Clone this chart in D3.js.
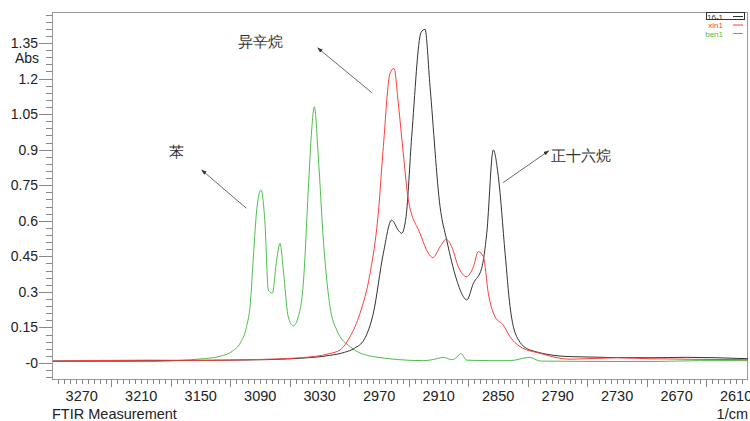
<!DOCTYPE html>
<html>
<head>
<meta charset="utf-8">
<script src="https://cdn.jsdelivr.net/npm/d3@7"></script>
<style>
  body { margin: 0; background: #fff; }
  svg { display: block; }
  text { font-family: "Liberation Sans", Arial, sans-serif; }
</style>
</head>
<body>
<svg width="750" height="421"></svg>
<script>
// spectra, [wavenumber 1/cm, absorbance]
const hexadecane = [
  [3299, 0.008], [3201, 0.01], [3100, 0.013], [3050, 0.02], [3020, 0.032], [3005, 0.045],
  [2995, 0.062], [2985, 0.1], [2975.9, 0.21], [2965.8, 0.463], [2957.4, 0.603], [2950.7, 0.56],
  [2947.3, 0.547], [2942.9, 0.617], [2937.2, 0.955], [2927.8, 1.394], [2923.8, 1.408],
  [2918.7, 1.166], [2908.6, 0.66], [2901.9, 0.519], [2891.8, 0.35], [2885.1, 0.28],
  [2881.7, 0.266], [2875, 0.336], [2866.6, 0.40], [2861.5, 0.547], [2854.9, 0.899],
  [2849.8, 0.786], [2843, 0.463], [2838, 0.238], [2831.3, 0.111], [2817.9, 0.055],
  [2777.5, 0.027], [2696.8, 0.022], [2660, 0.024], [2598, 0.018]
];
const isooctane = [
  [3299, 0.008], [3201, 0.012], [3150.7, 0.011], [3100, 0.014], [3050, 0.022],
  [3019.6, 0.04], [3009.5, 0.055], [2999.4, 0.111], [2989.3, 0.21], [2979.2, 0.378],
  [2970.9, 0.632], [2965.8, 0.913], [2959.1, 1.222], [2955, 1.243], [2950.7, 1.095],
  [2945.7, 0.885], [2940.6, 0.688], [2928.8, 0.547], [2920.4, 0.463], [2916, 0.444],
  [2908.6, 0.49], [2902.6, 0.522], [2896.8, 0.49], [2890.2, 0.406], [2881.7, 0.364],
  [2875, 0.406], [2870, 0.47], [2864.9, 0.448], [2859.9, 0.294], [2853.1, 0.195],
  [2844.8, 0.16], [2838, 0.111], [2827.9, 0.069], [2807.8, 0.041], [2777.5, 0.016],
  [2730, 0.022], [2696.8, 0.018], [2598, 0.014]
];
const benzene = [
  [3299, 0.008], [3201, 0.006], [3171, 0.011], [3150, 0.017], [3130, 0.029],
  [3118, 0.05], [3110, 0.085], [3104, 0.15], [3100, 0.25], [3096.9, 0.448],
  [3093.5, 0.646], [3089.2, 0.73],
  [3085.2, 0.59], [3081.8, 0.308], [3077.8, 0.294], [3073.4, 0.435], [3070, 0.505],
  [3066.7, 0.392], [3061.7, 0.195], [3056.6, 0.156], [3051.6, 0.195], [3046.5, 0.336],
  [3041.5, 0.73], [3038.1, 0.983], [3035.4, 1.081], [3031.4, 0.87], [3026.3, 0.519],
  [3019.6, 0.238], [3012.8, 0.139], [2999.4, 0.069], [2975.9, 0.027], [2925.5, 0.01],
  [2911.7, 0.018], [2905.3, 0.024], [2896.8, 0.014], [2891.5, 0.025], [2887.7, 0.04],
  [2881.7, 0.012], [2858.2, 0.01], [2838, 0.01], [2817.9, 0.024], [2807.8, 0.008],
  [2696.8, 0.006], [2646, 0.01], [2598, 0.01]
];

const seriesNames = ["16-1", "xin1", "ben1"];
const seriesColors = ["#333333", "#ff3c3c", "#4cbf4c"];

const xTickLabels = [3270, 3210, 3150, 3090, 3030, 2970, 2910, 2850, 2790, 2730, 2670, 2610];
const yTickLabels = [1.35, 1.2, 1.05, 0.9, 0.75, 0.6, 0.45, 0.3, 0.15, 0];

// annotations in data units: label, label point, arrow tail, arrow head
const notes = [
  { text: "异辛烷", at: [3090, 1.354], anchor: "middle", from: [2977, 1.139], to: [3032, 1.329] },
  { text: "苯", at: [3174, 0.89], anchor: "middle", from: [3104, 0.653], to: [3149, 0.814] },
  { text: "正十六烷", at: [2797, 0.873], anchor: "start", from: [2845, 0.761], to: [2799, 0.895] }
];

const mLeft = 52, mRight = 748, mTop = 12, mBottom = 379;

const svg = d3.select("svg");

const x = d3.scaleLinear().domain([3300, 2598]).range([mLeft, mRight]);
const y = d3.scaleLinear().domain([0, 1.35]).range([363, 43]);

// frame
svg.append("rect")
  .attr("x", mLeft + 0.5).attr("y", mTop + 0.5)
  .attr("width", mRight - mLeft - 1).attr("height", mBottom - mTop)
  .attr("fill", "none").attr("stroke", "#999");

// y ticks
const yMinor = d3.range(-0.06, 1.48, 0.03);
svg.append("g").selectAll("line").data(yMinor).join("line")
  .attr("x1", mLeft - 6).attr("x2", mLeft)
  .attr("y1", d => Math.round(y(d)) + 0.5).attr("y2", d => Math.round(y(d)) + 0.5)
  .attr("stroke", "#888");
svg.append("g").selectAll("line").data(yTickLabels).join("line")
  .attr("x1", mLeft - 13).attr("x2", mLeft)
  .attr("y1", d => Math.round(y(d)) + 0.5).attr("y2", d => Math.round(y(d)) + 0.5)
  .attr("stroke", "#888");
svg.append("g").selectAll("text").data(yTickLabels).join("text")
  .attr("x", mLeft - 14).attr("y", d => y(d) + 5)
  .attr("text-anchor", "end").attr("font-size", 14).attr("fill", "#222")
  .text(d => d === 0 ? "-0" : d3.format("")(d));
svg.append("text").attr("x", mLeft - 13).attr("y", 63)
  .attr("text-anchor", "end").attr("font-size", 14).attr("fill", "#222").text("Abs");

// x ticks
const xMinor = d3.range(3294, 2598, -6);
svg.append("g").selectAll("line").data(xMinor).join("line")
  .attr("x1", d => Math.round(x(d)) + 0.5).attr("x2", d => Math.round(x(d)) + 0.5)
  .attr("y1", mBottom).attr("y2", d => (d % 60 === 0 ? mBottom + 8 : mBottom + 5))
  .attr("stroke", "#888");
svg.append("g").selectAll("text").data(xTickLabels).join("text")
  .attr("x", d => x(d)).attr("y", 401)
  .attr("text-anchor", "middle").attr("font-size", 14.5).attr("fill", "#222")
  .text(d => d);
svg.append("text").attr("x", mLeft).attr("y", 419)
  .attr("font-size", 14.5).attr("fill", "#222").text("FTIR Measurement");
svg.append("text").attr("x", mRight).attr("y", 419)
  .attr("text-anchor", "end").attr("font-size", 14.5).attr("fill", "#222").text("1/cm");

// spectra
const line = d3.line().x(d => x(d[0])).y(d => y(d[1])).curve(d3.curveMonotoneX);
const plot = svg.append("g");
[benzene, hexadecane, isooctane].forEach((s, i) => {
  const c = [seriesColors[2], seriesColors[0], seriesColors[1]][i];
  plot.append("path").attr("d", line(s))
    .attr("fill", "none").attr("stroke", c).attr("stroke-width", 1);
});

// legend
const lg = svg.append("g").attr("font-size", 8);
seriesNames.forEach((n, i) => {
  const yy = 16.5 + i * 8.5;
  lg.append("text").attr("x", 723).attr("y", yy + 3)
    .attr("text-anchor", "end").attr("fill", seriesColors[i]).text(n);
  lg.append("line").attr("x1", 733).attr("x2", 743)
    .attr("y1", yy).attr("y2", yy).attr("stroke", seriesColors[i]);
});
lg.append("rect").attr("x", 706.5).attr("y", 12.5).attr("width", 38).attr("height", 7)
  .attr("fill", "none").attr("stroke", "#333");

// annotations
svg.append("defs").append("marker")
  .attr("id", "ah").attr("viewBox", "0 0 10 10").attr("refX", 9).attr("refY", 5)
  .attr("markerWidth", 7).attr("markerHeight", 7).attr("orient", "auto")
  .append("path").attr("d", "M0,1.5L10,5L0,8.5Z").attr("fill", "#333");
const ann = svg.append("g");
notes.forEach(n => {
  ann.append("line")
    .attr("x1", x(n.from[0])).attr("y1", y(n.from[1]))
    .attr("x2", x(n.to[0])).attr("y2", y(n.to[1]))
    .attr("stroke", "#444").attr("stroke-width", 0.8)
    .attr("marker-end", "url(#ah)");
  ann.append("text")
    .attr("x", x(n.at[0])).attr("y", y(n.at[1]) + 5)
    .attr("text-anchor", n.anchor)
    .attr("font-family", "'Noto Sans CJK SC', sans-serif")
    .attr("font-size", 15).attr("fill", "#333")
    .text(n.text);
});
</script>
</body>
</html>
